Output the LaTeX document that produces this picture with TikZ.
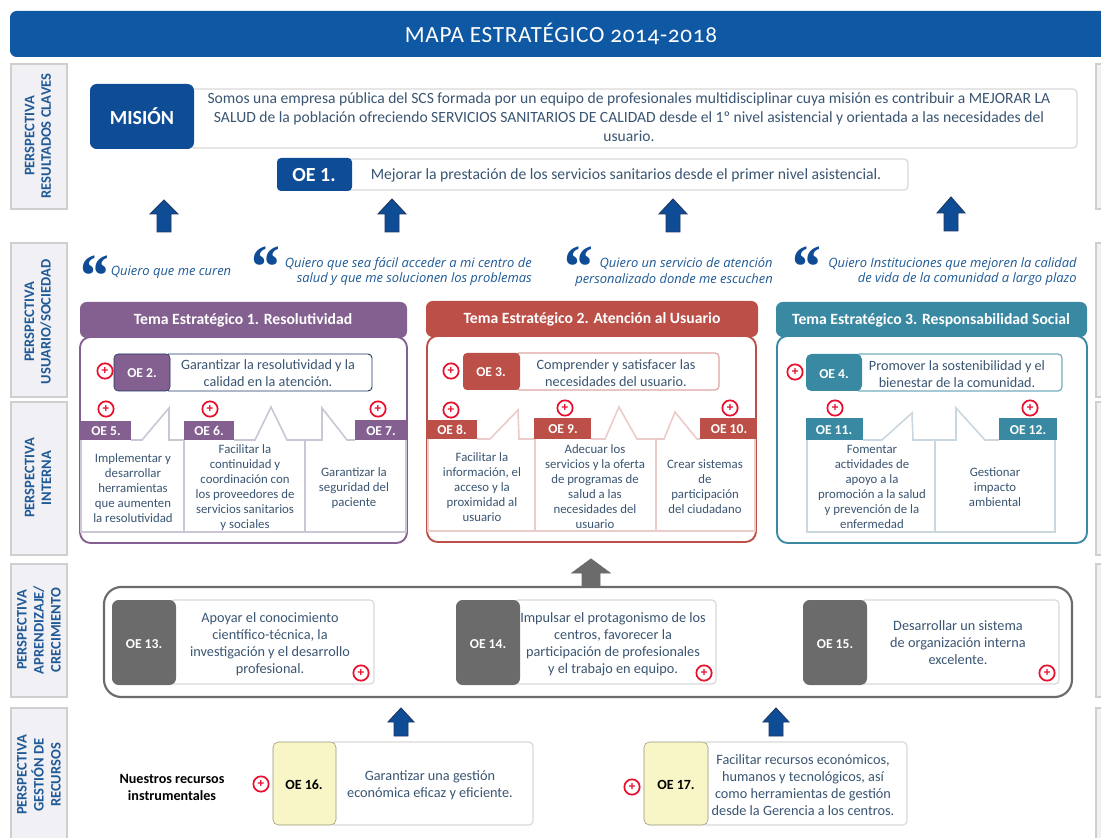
\documentclass[tikz,border=0pt]{standalone}
\usepackage{fontspec}
\setmainfont{Carlito}
\newfontfamily\titlefont[Numbers=OldStyle,LetterSpace=3]{Carlito}
\newfontfamily\quotefont{Open Sans}
\newfontfamily\markfont{Liberation Serif}
\newfontfamily\plusfont{Liberation Sans}
\definecolor{barblue}{HTML}{0F58A3}
\definecolor{navy}{HTML}{0F4C96}
\definecolor{arrowline}{HTML}{1F3864}
\definecolor{perspfill}{HTML}{F1F0F5}
\definecolor{perspline}{HTML}{CFCFCF}
\definecolor{persptext}{HTML}{1F5A96}
\definecolor{softline}{HTML}{D9D9D9}
\definecolor{bodytext}{HTML}{3A5572}
\definecolor{purpleT}{HTML}{83608F}
\definecolor{purpleL}{HTML}{CBC5D5}
\definecolor{redT}{HTML}{BC4F47}
\definecolor{redL}{HTML}{EBCCCA}
\definecolor{tealT}{HTML}{3A89A3}
\definecolor{tealL}{HTML}{CAD7DF}
\definecolor{greyT}{HTML}{6B6B6B}
\definecolor{yellowT}{HTML}{F8F6C6}
\definecolor{plusred}{HTML}{E8112D}
\tikzset{
  persp/.style={draw=perspline,fill=perspfill,line width=0.9pt},
  persplabel/.style={rotate=90,text=persptext,align=center,inner sep=0pt,font=\fontsize{10.9}{12.4}\selectfont\bfseries},
  whitebox/.style={draw=softline,fill=white,line width=0.9pt,rounded corners=3pt},
  body/.style={text=bodytext,align=center,inner sep=0pt,font=\fontsize{9.6}{11.25}\selectfont},
  bodyL/.style={text=bodytext,align=center,inner sep=0pt,font=\fontsize{10.7}{12.75}\selectfont},
  bodyM/.style={text=bodytext,align=center,inner sep=0pt,font=\fontsize{10.65}{12.3}\selectfont},
  oelabel/.style={text=white,inner sep=0pt,font=\fontsize{10.2}{12}\selectfont\bfseries},
  oedark/.style={text=black,inner sep=0pt,font=\fontsize{10.5}{12}\selectfont\bfseries},
  headtext/.style={text=white,inner sep=0pt,font=\fontsize{11.75}{14}\selectfont\bfseries},
  quotetext/.style={text=persptext,align=right,inner sep=0pt,font=\quotefont\itshape\fontsize{9.7}{11.4}\selectfont},
  quotemark/.style={text=navy,inner sep=0pt,font=\markfont\bfseries\itshape\fontsize{46}{46}\selectfont},
  plusicon/.style={circle,draw=plusred,fill=white,line width=1.3pt,minimum size=11.5pt,inner sep=0pt,text=plusred,font=\plusfont\bfseries\fontsize{9}{9}\selectfont},
  calloutP/.style={draw=purpleL,line width=1.2pt},
  calloutR/.style={draw=redL,line width=1.2pt},
  calloutT/.style={draw=tealL,line width=1.2pt},
}
\newcommand{\bx}[6]{\node[#6,minimum width={(#4-#2)*0.75pt},minimum height={(#5-#3)*0.75pt},outer sep=0pt,inner sep=0pt] (#1) at ({(#2+#4)/2},{(#3+#5)/2}) {};}
\newcommand{\tx}[5]{\node[#4] (#1) at (#2,#3) {#5};}
\newcommand{\plusat}[3]{\node[plusicon] (#1) at (#2,#3) {+};}
% x, tip y, head-base y, bottom y, half-head, half-shaft, fill, line
\newcommand{\blockup}[8]{\draw[fill=#7,draw=#8,line width=0.7pt,line join=miter] (#1,#2) -- ({#1+#5},#3) -- ({#1+#6},#3) -- ({#1+#6},#4) -- ({#1-#6},#4) -- ({#1-#6},#3) -- ({#1-#5},#3) -- cycle;}
\begin{document}
\begin{tikzpicture}[x=0.75pt,y=-0.75pt]
\useasboundingbox (0,0) rectangle (1101,838);
\clip (0,0) rectangle (1101,838);
\fill[white] (0,0) rectangle (1101,838);

% title
\bx{titlebar}{10}{11}{1115}{57}{fill=barblue,rounded corners=5pt}
\tx{titletext}{561}{34}{text=white,inner sep=0pt,font=\titlefont\fontsize{17.4}{20}\selectfont}{MAPA ESTRATÉGICO 2014-2018}

% perspective column
\bx{p1}{11}{64}{67}{209}{persp}
\bx{p2}{11}{243}{67}{397}{persp}
\bx{p3}{11}{402}{67}{555}{persp}
\bx{p4}{11}{564}{67}{697}{persp}
\bx{p5}{11}{708}{67}{850}{persp}
\bx{r1}{1096}{64}{1130}{209}{persp}
\bx{r2}{1096}{243}{1130}{397}{persp}
\bx{r3}{1096}{402}{1130}{555}{persp}
\bx{r4}{1096}{564}{1130}{697}{persp}
\bx{r5}{1096}{708}{1130}{850}{persp}
\tx{l1}{38}{136}{persplabel}{PERSPECTIVA\\RESULTADOS CLAVES}
\tx{l2}{38}{322}{persplabel}{PERSPECTIVA\\USUARIO/SOCIEDAD}
\tx{l3}{38}{478}{persplabel}{PERSPECTIVA\\INTERNA}
\tx{l4}{39}{630}{persplabel,font=\fontsize{10.9}{12.75}\selectfont\bfseries}{PERSPECTIVA\\APRENDIZAJE/\\CRECIMIENTO}
\tx{l5}{39}{775}{persplabel,font=\fontsize{10.9}{12.75}\selectfont\bfseries}{PERSPECTIVA\\GESTIÓN DE\\RECURSOS}

% mission
\bx{misbox}{190}{89}{1077}{148}{whitebox}
\bx{mistag}{90}{84}{194}{149}{fill=navy,rounded corners=5pt}
\tx{mislabel}{142}{116}{text=white,inner sep=0pt,font=\fontsize{15}{18}\selectfont\bfseries}{MISIÓN}
\tx{mistext}{629}{117}{text=bodytext,align=center,inner sep=0pt,font=\fontsize{11.7}{14.25}\selectfont}{Somos una empresa pública del SCS formada por un equipo de profesionales multidisciplinar cuya misión es contribuir a MEJORAR LA\\SALUD de la población ofreciendo SERVICIOS SANITARIOS DE CALIDAD desde el 1º nivel asistencial y orientada a las necesidades del\\usuario.}

% OE 1
\bx{oe1box}{345}{159}{908}{190}{whitebox}
\bx{oe1tag}{277}{158}{352}{191}{fill=navy,rounded corners=3pt}
\tx{oe1label}{314}{175}{text=white,inner sep=0pt,font=\fontsize{15}{18}\selectfont\bfseries}{OE 1.}
\tx{oe1text}{626}{175}{text=bodytext,inner sep=0pt,font=\fontsize{11.75}{14}\selectfont}{Mejorar la prestación de los servicios sanitarios desde el primer nivel asistencial.}

% upper arrows
\blockup{164}{200}{214}{232}{14}{7}{navy}{arrowline}
\blockup{392}{199}{214}{232}{14}{7}{navy}{arrowline}
\blockup{673}{199}{214}{232}{14}{7}{navy}{arrowline}
\blockup{951}{197}{213}{231}{14}{7}{navy}{arrowline}

% quotes
\tx{q1}{93}{297}{quotemark}{\smash{“}}
\tx{q2}{264}{288}{quotemark}{\smash{“}}
\tx{q3}{577}{288}{quotemark}{\smash{“}}
\tx{q4}{805}{288}{quotemark}{\smash{“}}
\tx{qt1}{171}{272}{quotetext}{Quiero que me curen}
\node[quotetext,anchor=east] (qt2) at (532,272) {Quiero que sea fácil acceder a mi centro de\\salud y que me solucionen los problemas};
\node[quotetext,anchor=east] (qt3) at (773,272) {Quiero un servicio de atención\\personalizado donde me escuchen};
\node[quotetext,anchor=east] (qt4) at (1077,272) {Quiero Instituciones que mejoren la calidad\\de vida de la comunidad a largo plazo};

% ---- Theme 1
\bx{panel1}{80}{337}{407}{543}{draw=purpleT,fill=white,line width=1.4pt,rounded corners=8pt}
\bx{head1}{80}{302}{407}{338}{fill=purpleT,rounded corners=5pt}
\tx{head1t}{243}{320}{headtext}{Tema Estratégico 1. Resolutividad}
\bx{oe2box}{165}{354}{372}{391}{draw=arrowline,fill=white,line width=0.7pt,rounded corners=3pt}
\bx{oe2tag}{114}{354}{170}{391}{draw=arrowline,fill=purpleT,rounded corners=3pt,line width=0.4pt}
\tx{oe2l}{142}{373}{oelabel}{OE 2.}
\tx{oe2t}{268}{373}{bodyM}{Garantizar la resolutividad y la\\calidad en la atención.}
\plusat{pl2}{105}{371}
\draw[calloutP] (81,440) -- (81,532) -- (406,532) -- (406,440);
\draw[calloutP] (184,440) -- (184,532) (305,440) -- (305,532);
\draw[calloutP] (131,440) -- (142,440) -- (169,408) -- (169,440) -- (184,440);
\draw[calloutP] (234,440) -- (255,440) -- (271,407) -- (287,440) -- (322,440) -- (322,408) -- (347,440) -- (355,440);
\bx{oe5}{80}{421}{131}{440}{fill=purpleT}
\bx{oe6}{184}{421}{234}{440}{fill=purpleT}
\bx{oe7}{355}{420}{406}{440}{fill=purpleT}
\tx{oe5l}{106}{431}{oelabel}{OE 5.}
\tx{oe6l}{209}{431}{oelabel}{OE 6.}
\tx{oe7l}{381}{431}{oelabel}{OE 7.}
\plusat{pl5}{106}{409}
\plusat{pl6}{210}{409}
\plusat{pl7}{378}{409}
\tx{oe5t}{133}{488}{body}{Implementar y\\desarrollar\\herramientas\\que aumenten\\la resolutividad}
\tx{oe6t}{245}{488}{body}{Facilitar la\\continuidad y\\coordinación con\\los proveedores de\\servicios sanitarios\\y sociales}
\tx{oe7t}{354}{488}{body}{Garantizar la\\seguridad del\\paciente}

% ---- Theme 2
\bx{panel2}{427}{336}{756}{542}{draw=redT,fill=white,line width=1.4pt,rounded corners=8pt}
\bx{head2}{426}{301}{758}{337}{fill=redT,rounded corners=5pt}
\tx{head2t}{592}{319}{headtext}{Tema Estratégico 2. Atención al Usuario}
\bx{oe3box}{515}{353}{719}{390}{draw=redL!70!redT,fill=white,line width=0.9pt,rounded corners=3pt}
\bx{oe3tag}{463}{353}{520}{390}{fill=redT,rounded corners=3pt}
\tx{oe3l}{491}{372}{oelabel}{OE 3.}
\tx{oe3t}{616}{373}{bodyM}{Comprender y satisfacer las\\necesidades del usuario.}
\plusat{pl3}{451}{371}
\draw[calloutR] (428,439) -- (428,531) -- (755,531) -- (755,439);
\draw[calloutR] (535,439) -- (535,531) (656,439) -- (656,531);
\draw[calloutR] (477,439) -- (490,439) -- (518,410) -- (519,439) -- (534,439);
\draw[calloutR] (591,439) -- (605,439) -- (619,407) -- (637,439) -- (664,439) -- (675,412) -- (697,439) -- (700,439);
\bx{oe8}{427}{420}{477}{439}{fill=redT}
\bx{oe9}{534}{418}{591}{439}{fill=redT}
\bx{oe10}{700}{418}{757}{439}{fill=redT}
\tx{oe8l}{452}{430}{oelabel}{OE 8.}
\tx{oe9l}{563}{429}{oelabel}{OE 9.}
\tx{oe10l}{729}{429}{oelabel}{OE 10.}
\plusat{pl8}{451}{410}
\plusat{pl9}{565}{408}
\plusat{pl10}{730}{408}
\tx{oe8t}{482}{487}{body}{Facilitar la\\información, el\\acceso y la\\proximidad al\\usuario}
\tx{oe9t}{595}{487}{body}{Adecuar los\\servicios y la oferta\\de programas de\\salud a las\\necesidades del\\usuario}
\tx{oe10t}{705}{487}{body}{Crear sistemas\\de\\participación\\del ciudadano}

% ---- Theme 3
\bx{panel3}{777}{336}{1087}{543}{draw=tealT,fill=white,line width=1.4pt,rounded corners=8pt}
\bx{head3}{776}{302}{1087}{337}{fill=tealT,rounded corners=5pt}
\tx{head3t}{931}{320}{headtext}{Tema Estratégico 3. Responsabilidad Social}
\bx{oe4box}{855}{354}{1062}{391}{draw=tealT!70!white,fill=white,line width=0.9pt,rounded corners=3pt}
\bx{oe4tag}{806}{354}{862}{391}{fill=tealT,rounded corners=4pt}
\tx{oe4l}{834}{374}{oelabel}{OE 4.}
\tx{oe4t}{957}{374}{bodyM}{Promover la sostenibilidad y el\\bienestar de la comunidad.}
\plusat{pl4}{795}{372}
\draw[calloutT] (807,440) -- (807,532) -- (1055,532) -- (1055,440);
\draw[calloutT] (935,440) -- (935,532);
\draw[calloutT] (863,440) -- (882,440) -- (912,413) -- (913,440) -- (956,440) -- (956,408) -- (985,440) -- (999,440);
\bx{oe11}{806}{418}{863}{440}{fill=tealT}
\bx{oe12}{999}{418}{1057}{440}{fill=tealT}
\tx{oe11l}{834}{430}{oelabel}{OE 11.}
\tx{oe12l}{1028}{430}{oelabel}{OE 12.}
\plusat{pl11}{835}{408}
\plusat{pl12}{1030}{408}
\tx{oe11t}{872}{487}{body}{Fomentar\\actividades de\\apoyo a la\\promoción a la salud\\y prevención de la\\enfermedad}
\tx{oe12t}{995}{487}{body}{Gestionar\\impacto\\ambiental}

% learning
\blockup{591}{559}{573}{588}{19}{9}{greyT}{greyT}
\bx{learn}{104}{587}{1072}{697}{draw=greyT,fill=white,line width=1.6pt,rounded corners=13pt}
\bx{oe13box}{170}{600}{374}{684}{whitebox}
\bx{oe13tag}{112}{600}{176}{685}{fill=greyT,rounded corners=5pt}
\bx{oe14box}{514}{600}{716}{684}{whitebox}
\bx{oe14tag}{456}{600}{520}{685}{fill=greyT,rounded corners=5pt}
\bx{oe15box}{861}{600}{1059}{684}{whitebox}
\bx{oe15tag}{803}{600}{867}{685}{fill=greyT,rounded corners=5pt}
\tx{oe13l}{144}{644}{oelabel}{OE 13.}
\tx{oe14l}{488}{644}{oelabel}{OE 14.}
\tx{oe15l}{835}{644}{oelabel}{OE 15.}
\tx{oe13t}{270}{644}{bodyL}{Apoyar el conocimiento\\científico-técnica, la\\investigación y el desarrollo\\profesional.}
\tx{oe14t}{613}{644}{bodyL}{Impulsar el protagonismo de los\\centros, favorecer la\\participación de profesionales\\y el trabajo en equipo.}
\tx{oe15t}{958}{643}{bodyL}{Desarrollar un sistema\\de organización interna\\excelente.}
\plusat{pl13}{361}{673}
\plusat{pl14}{704}{673}
\plusat{pl15}{1047}{673}

% resources
\blockup{401}{708}{722}{736}{13}{7}{navy}{arrowline}
\blockup{776}{708}{722}{736}{13}{7}{navy}{arrowline}
\tx{res}{172}{787}{text=black,align=center,inner sep=0pt,font=\fontsize{10.6}{12.75}\selectfont\bfseries}{Nuestros recursos\\instrumentales}
\bx{oe16box}{330}{742}{533}{825}{whitebox}
\bx{oe16tag}{273}{742}{336}{825}{draw=yellowT!60!black,fill=yellowT,rounded corners=4pt}
\tx{oe16l}{304}{785}{oedark}{OE 16.}
\tx{oe16t}{430}{785}{bodyL}{Garantizar una gestión\\económica eficaz y eficiente.}
\plusat{pl16}{261}{784}
\bx{oe17box}{702}{742}{907}{825}{whitebox}
\bx{oe17tag}{644}{742}{708}{825}{draw=yellowT!60!black,fill=yellowT,rounded corners=4pt}
\tx{oe17l}{676}{785}{oedark}{OE 17.}
\tx{oe17t}{803}{785}{bodyL}{Facilitar recursos económicos,\\humanos y tecnológicos, así\\como herramientas de gestión\\desde la Gerencia a los centros.}
\plusat{pl17}{632}{787}
\end{tikzpicture}
\end{document}
